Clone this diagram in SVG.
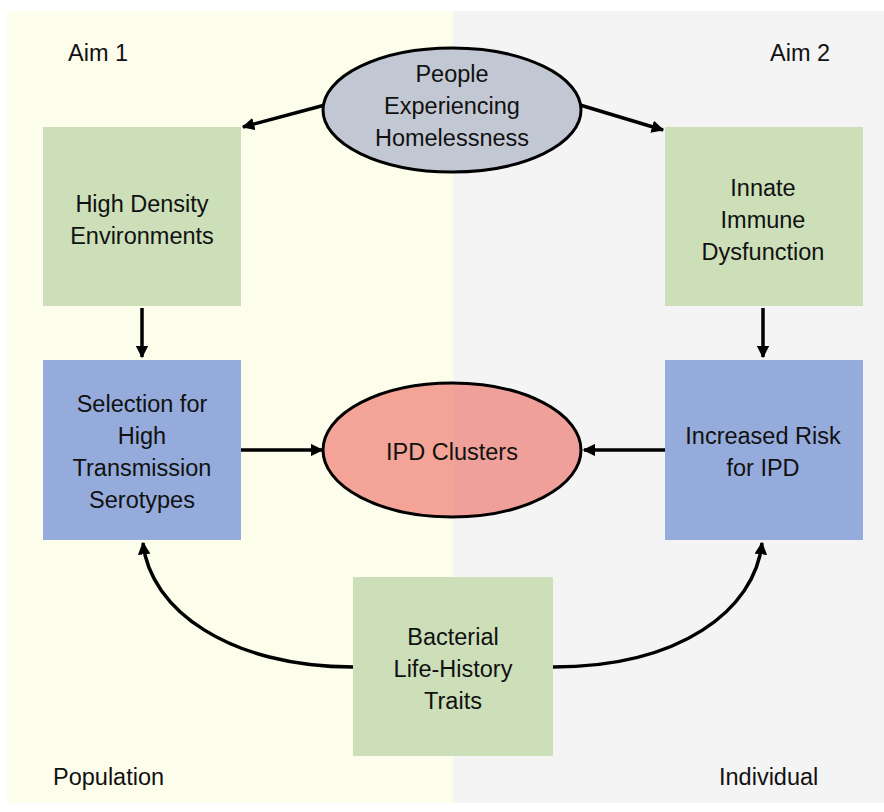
<svg xmlns="http://www.w3.org/2000/svg" width="884" height="812" viewBox="0 0 884 812">
<defs>
<marker id="ah" viewBox="0 0 10 10" refX="9" refY="5" markerWidth="3.6" markerHeight="3.6" orient="auto" markerUnits="strokeWidth">
<path d="M0,0 L10,5 L0,10 z" fill="#000"/>
</marker>
<style>
text{font-family:"Liberation Sans",Arial,sans-serif;font-size:23.5px;fill:#111;text-anchor:middle}
.lab{text-anchor:start}
.green{fill:#CCDFB9}
.blue{fill:#95ABDB}
.ell{stroke:#000;stroke-width:3}
.conn path{fill:none;stroke:#000;stroke-width:3.5;marker-end:url(#ah)}
</style>
</defs>
<rect x="0" y="0" width="884" height="812" fill="#fff"/>
<g id="panels">
<rect x="7" y="11" width="446" height="792" fill="#FDFDEC"/>
<rect x="453" y="11" width="431" height="792" fill="#F4F4F4"/>
</g>
<g id="labels">
<text class="lab" x="68" y="61">Aim 1</text>
<text class="lab" x="770" y="61">Aim 2</text>
<text class="lab" x="53" y="785">Population</text>
<text class="lab" x="719" y="785">Individual</text>
</g>
<g class="conn" id="connectors">
<path d="M325,105 L243,127"/>
<path d="M580,105 L663,130"/>
<path d="M142,308 L142,357"/>
<path d="M763,308 L763,357"/>
<path d="M241,450 L322,450"/>
<path d="M665,450 L584,450"/>
<path d="M353,667 C230,667 150,610 143,543"/>
<path d="M553,667 C680,667 755,610 762,543"/>
</g>
<g id="people">
<ellipse class="ell" cx="452" cy="110" rx="129" ry="62" fill="#C2C8D3"/>
<text x="452" y="82">People</text>
<text x="452" y="114">Experiencing</text>
<text x="452" y="146">Homelessness</text>
</g>
<g id="density">
<rect class="green" x="43" y="127" width="198" height="179"/>
<text x="142" y="212">High Density</text>
<text x="142" y="244">Environments</text>
</g>
<g id="innate">
<rect class="green" x="665" y="127" width="198" height="179"/>
<text x="763" y="196">Innate</text>
<text x="763" y="228">Immune</text>
<text x="763" y="260">Dysfunction</text>
</g>
<g id="selection">
<rect class="blue" x="43" y="360" width="198" height="180"/>
<text x="142" y="412">Selection for</text>
<text x="142" y="444">High</text>
<text x="142" y="476">Transmission</text>
<text x="142" y="508">Serotypes</text>
</g>
<g id="risk">
<rect class="blue" x="665" y="360" width="198" height="180"/>
<text x="763" y="444">Increased Risk</text>
<text x="763" y="476">for IPD</text>
</g>
<g id="ipd">
<ellipse class="ell" cx="452" cy="450" rx="129" ry="67" fill="#EC4C40" fill-opacity="0.5"/>
<text x="452" y="460">IPD Clusters</text>
</g>
<g id="bacterial">
<rect class="green" x="353" y="577" width="200" height="179"/>
<text x="453" y="645">Bacterial</text>
<text x="453" y="677">Life-History</text>
<text x="453" y="709">Traits</text>
</g>
</svg>
